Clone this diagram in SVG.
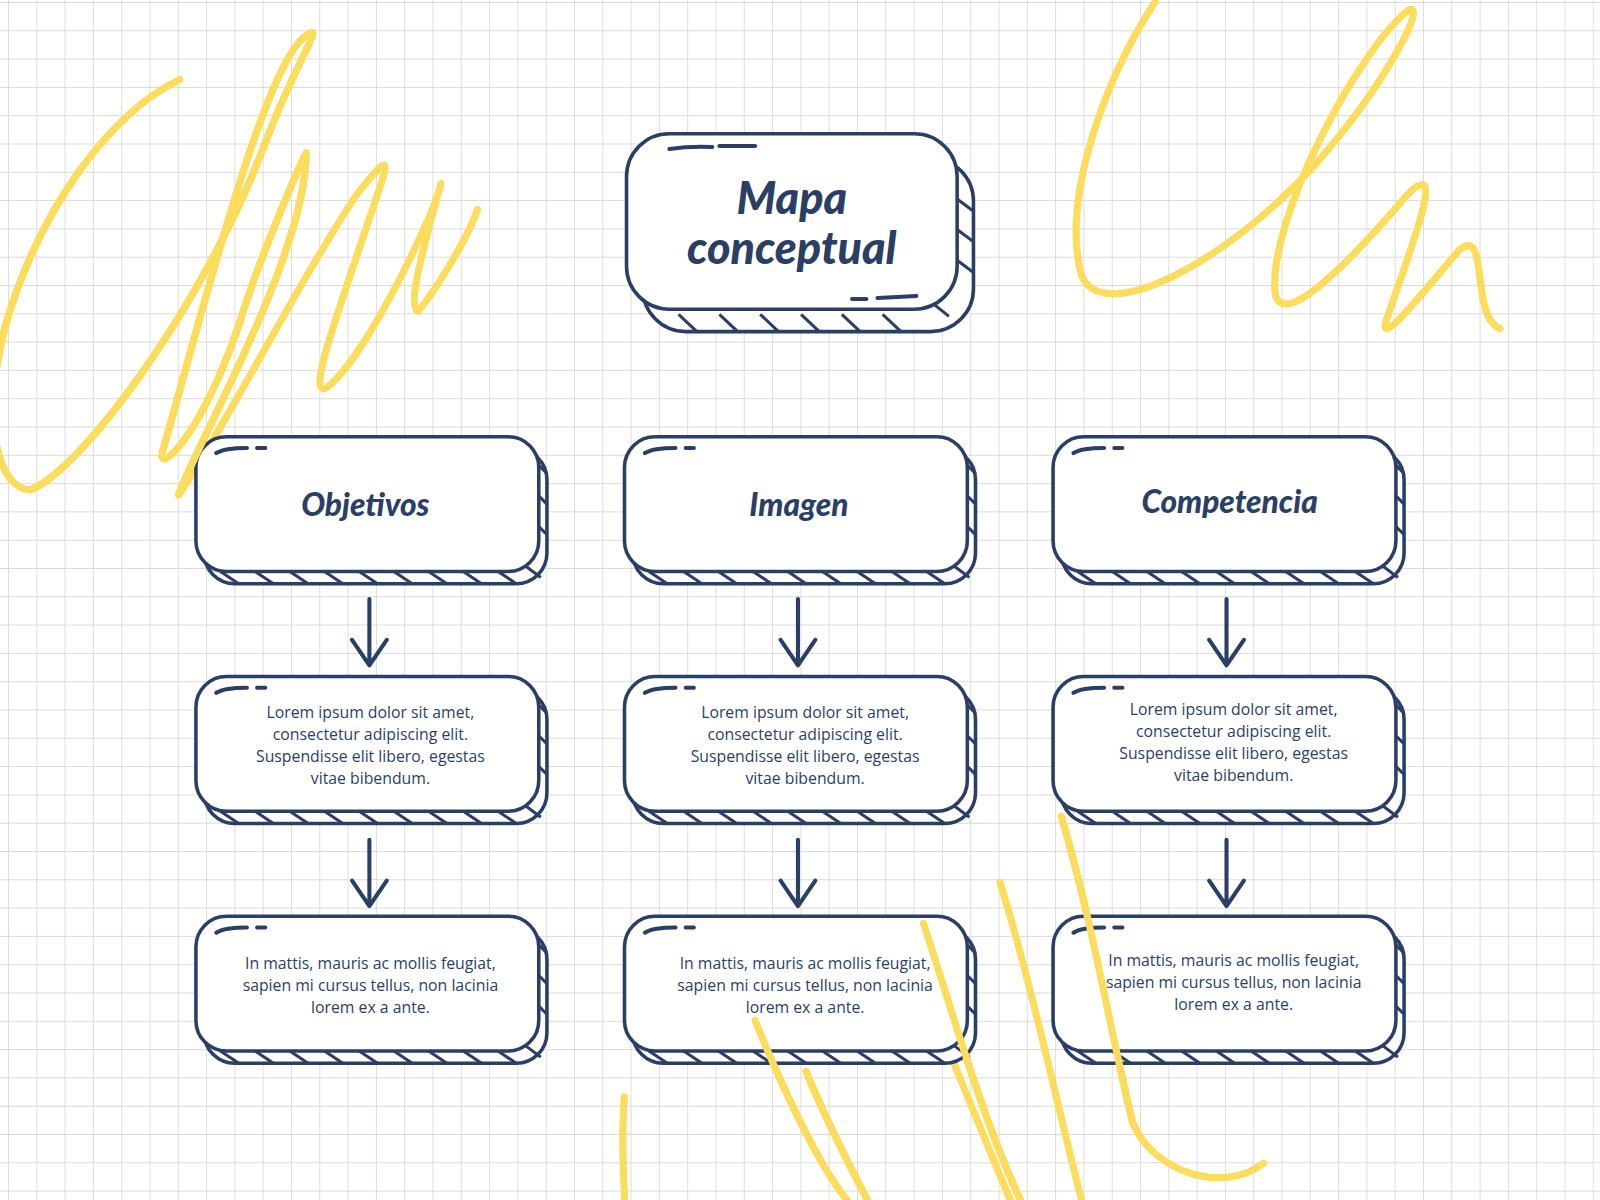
<svg xmlns="http://www.w3.org/2000/svg" width="1600" height="1200" viewBox="0 0 1600 1200">
<defs>
<pattern id="grid" width="28.3" height="28.3" patternUnits="userSpaceOnUse" x="8" y="2">
<path d="M0 0H28.3M0 0V28.3" fill="none" stroke="#d9d9d9" stroke-width="1.8"/>
</pattern>
<style>
.b{fill:#fff;stroke:#2b3f66;stroke-width:3.5}
.h{stroke:#2b3f66;stroke-width:3;fill:none}
.t{font-family:Lato,"Liberation Sans",sans-serif;font-weight:900;font-style:italic;fill:#2b3f66;text-anchor:middle}
.p{font-family:"Open Sans","Liberation Sans",sans-serif;font-size:15.5px;fill:#2b3f66;text-anchor:middle}
.y{fill:none;stroke:#fbdc5c;stroke-width:7;stroke-linecap:round;stroke-linejoin:round}
.a{fill:none;stroke:#2b3f66;stroke-width:4;stroke-linecap:round;stroke-linejoin:round}
</style>
<g id="box">
<rect class="b" x="8" y="12" width="336" height="132" rx="30"/>
<path class="h" d="M24 132l18 12M58 132l18 12M92 132l18 12M126 132l18 12M160 132l18 12M194 132l18 12M228 132l18 12M262 132l18 12M296 132l18 12M336 28l8 8M336 58l8 8M336 88l8 8M322 126l16 12"/>
<rect class="b" x="0" y="0" width="336" height="132" rx="30"/>
<path class="a" d="M20 16q8-5 30-5M60 11h8" stroke-width="3.5"/>
</g>
</defs>
<rect width="1600" height="1200" fill="#fff"/>
<rect width="1600" height="1200" fill="url(#grid)"/>
<g transform="scale(1.0204)">
<g id="scribbles">
<path class="y" d="M176 78C110 110 40 200 5 320C-20 420 0 480 30 480C80 460 200 300 260 140C290 60 320 20 300 35C260 60 200 300 160 440C150 470 200 430 240 300C260 240 290 170 300 150C300 250 190 440 175 485C220 420 290 280 350 190C390 140 380 160 360 220C330 310 300 390 320 380C360 350 430 200 432 180C410 260 400 300 410 305C430 280 460 230 468 205"/>
<path class="y" d="M1132 2C1080 80 1040 200 1060 270C1080 320 1200 260 1290 160C1360 80 1400 0 1380 10C1330 50 1240 220 1250 290C1260 320 1320 260 1380 190C1420 150 1380 250 1360 310C1345 350 1400 280 1430 245C1460 220 1440 310 1470 322"/>
<path class="y" d="M612 1075C608 1120 612 1160 612 1176M740 1000C760 1050 800 1140 830 1176M790 1050C810 1100 850 1176 850 1176M905 905C930 980 960 1090 1000 1176M930 1030C950 1080 975 1140 990 1176M980 865C1010 960 1040 1100 1060 1176M1040 800C1070 900 1090 1020 1110 1100C1130 1150 1200 1170 1238 1140"/>
</g>
<g id="connectors">
<path class="a" d="M362 587V652M345 627l17 25 17-25M782 587V652M765 627l17 25 17-25M1202 587V652M1185 627l17 25 17-25M362 823V888M345 863l17 25 17-25M782 823V888M765 863l17 25 17-25M1202 823V888M1185 863l17 25 17-25"/>
</g>
<g id="title">
<rect class="b" x="630" y="155" width="324" height="170" rx="42"/>
<path class="h" d="M665 308l18 17M705 308l18 17M745 308l18 17M785 308l18 17M825 308l18 17M865 308l18 17M938 195l16 12M938 225l16 12M938 255l16 12M905 290l25 20"/>
<rect class="b" x="614" y="131" width="324" height="172" rx="42"/>
<path class="a" d="M656 146q20-3 42-2M705 143h35M835 293h14M860 292q20-1 38-2" stroke-width="3.5"/>
<text class="t" x="776" y="210" font-size="44">Mapa</text>
<text class="t" x="776" y="259" font-size="44">conceptual</text>
</g>
<g id="n1"><use href="#box" x="192" y="428"/><text class="t" x="358" y="506" font-size="31">Objetivos</text></g>
<g id="n2"><use href="#box" x="612" y="428"/><text class="t" x="783" y="506" font-size="31">Imagen</text></g>
<g id="n3"><use href="#box" x="1032" y="428"/><text class="t" x="1205" y="503" font-size="31">Competencia</text></g>
<g id="n4"><use href="#box" x="192" y="663"/><text class="p" x="363" y="704">Lorem ipsum dolor sit amet,<tspan x="363" dy="21.5">consectetur adipiscing elit.</tspan><tspan x="363" dy="21.5">Suspendisse elit libero, egestas</tspan><tspan x="363" dy="21.5">vitae bibendum.</tspan></text></g>
<g id="n5"><use href="#box" x="612" y="663"/><text class="p" x="789" y="704">Lorem ipsum dolor sit amet,<tspan x="789" dy="21.5">consectetur adipiscing elit.</tspan><tspan x="789" dy="21.5">Suspendisse elit libero, egestas</tspan><tspan x="789" dy="21.5">vitae bibendum.</tspan></text></g>
<g id="n6"><use href="#box" x="1032" y="663"/><text class="p" x="1209" y="701">Lorem ipsum dolor sit amet,<tspan x="1209" dy="21.5">consectetur adipiscing elit.</tspan><tspan x="1209" dy="21.5">Suspendisse elit libero, egestas</tspan><tspan x="1209" dy="21.5">vitae bibendum.</tspan></text></g>
<g id="n7"><use href="#box" x="192" y="898"/><text class="p" x="363" y="950">In mattis, mauris ac mollis feugiat,<tspan x="363" dy="21.5">sapien mi cursus tellus, non lacinia</tspan><tspan x="363" dy="21.5">lorem ex a ante.</tspan></text></g>
<g id="n8"><use href="#box" x="612" y="898"/><text class="p" x="789" y="950">In mattis, mauris ac mollis feugiat,<tspan x="789" dy="21.5">sapien mi cursus tellus, non lacinia</tspan><tspan x="789" dy="21.5">lorem ex a ante.</tspan></text></g>
<g id="n9"><use href="#box" x="1032" y="898"/><text class="p" x="1209" y="947">In mattis, mauris ac mollis feugiat,<tspan x="1209" dy="21.5">sapien mi cursus tellus, non lacinia</tspan><tspan x="1209" dy="21.5">lorem ex a ante.</tspan></text></g>
<g id="overlay">
<path class="y" d="M176 78C110 110 40 200 5 320C-20 420 0 480 30 480C80 460 200 300 260 140C290 60 320 20 300 35C260 60 200 300 160 440C150 470 200 430 240 300C260 240 290 170 300 150C300 250 190 440 175 485"/>
<path class="y" d="M790 1050C810 1100 850 1176 850 1176M740 1000C760 1050 800 1140 830 1176"/>
<path class="y" d="M905 905C930 980 960 1090 1000 1176M1040 800C1070 900 1090 1020 1110 1100"/>
</g>
</g>
</svg>
